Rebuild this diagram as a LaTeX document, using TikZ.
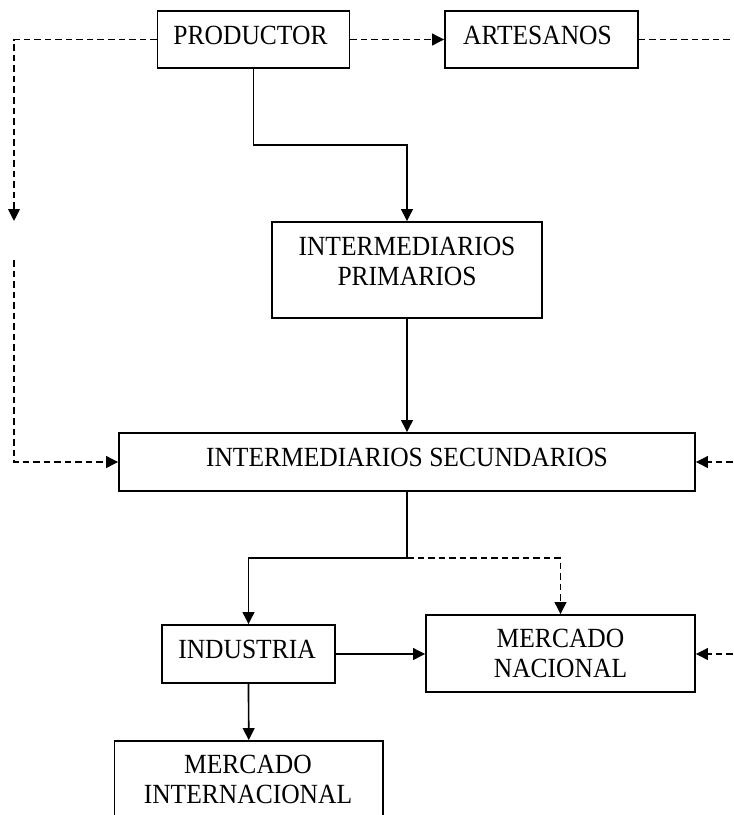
\documentclass[tikz,border=0pt]{standalone}
\usepackage{fontspec}
\setmainfont{Liberation Serif}
\newfontfamily\boxfont[FakeStretch=0.92]{Liberation Serif}
\usetikzlibrary{arrows.meta}
\begin{document}
\begin{tikzpicture}[x=0.75pt,y=-0.75pt,
  box/.style={draw, line width=1.3pt, rectangle, inner sep=0pt},
  lbl/.style={inner sep=0pt, align=center, font=\boxfont\fontsize{20.8pt}{22.5pt}\selectfont},
  link/.style={line width=1.25pt},
  flow/.style={link, -{Triangle[length=9pt,width=8.8pt]}},
  dsh/.style={dash pattern=on 4.9pt off 3pt},
]
\clip (0,0) rectangle (733,815);
\fill[white] (0,0) rectangle (733,815);

% boxes
\node[box, minimum width=192*0.75pt, minimum height=57.5*0.75pt] (prod) at (253.5,39.5) {};
\node[lbl] (prodt) at (250.5,35.2) {PRODUCTOR};
\node[box, minimum width=193*0.75pt, minimum height=57.5*0.75pt] (art) at (541.5,39.5) {};
\node[lbl] (artt) at (537.5,35.2) {ARTESANOS};
\node[box, minimum width=270*0.75pt, minimum height=96*0.75pt] (ip) at (407,270) {};
\node[lbl] (ipt) at (407,261) {INTERMEDIARIOS\\PRIMARIOS};
\node[box, minimum width=576*0.75pt, minimum height=58*0.75pt] (is) at (407,462) {};
\node[lbl] (ist) at (407,457.7) {INTERMEDIARIOS SECUNDARIOS};
\node[box, minimum width=173*0.75pt, minimum height=58*0.75pt] (ind) at (248.5,654) {};
\node[lbl] (indt) at (247,649) {INDUSTRIA};
\node[box, minimum width=269*0.75pt, minimum height=77*0.75pt] (mn) at (560.5,653.5) {};
\node[lbl] (mnt) at (560.5,653.7) {MERCADO\\NACIONAL};
\node[box, minimum width=268.5*0.75pt, minimum height=98*0.75pt] (mi) at (248.75,790) {};
\node[lbl] (mit) at (248,779) {MERCADO\\INTERNACIONAL};

% free ends and bends
\coordinate (lk1) at (14,39.5);
\coordinate (lk2) at (14,221);
\coordinate (lk3) at (14,260);
\coordinate (rk1) at (733,39.5);
\coordinate (rk2) at (733,462);
\coordinate (rk3) at (733,654);
\coordinate (k1) at (253.5,145);
\coordinate (br) at (407,558);

% dashed flows
\draw[flow,dsh] (prod.west) -- (lk1) -- (lk2);
\draw[flow,dsh] (lk3) -- (lk3 |- is.west) -- (is.west);
\draw[flow,dsh] (prod.east) -- (art.west);
\draw[link,dsh] (art.east) -- (rk1);
\draw[flow,dsh] (rk2) -- (is.east);
\draw[flow,dsh] (rk3) -- (rk3 -| mn.east);
\draw[flow,dsh] (br) -| (mn.north);

% solid flows
\draw[flow] (prod.south) -- (k1) -| (ip.north);
\draw[flow] (ip.south) -- (is.north);
\draw[link] (is.south) -- (br);
\draw[flow] (br) -| (ind.north);
\draw[flow] (ind.east) -- (ind.east -| mn.west);
\draw[flow] (ind.south) -- (mi.north);
\end{tikzpicture}
\end{document}
